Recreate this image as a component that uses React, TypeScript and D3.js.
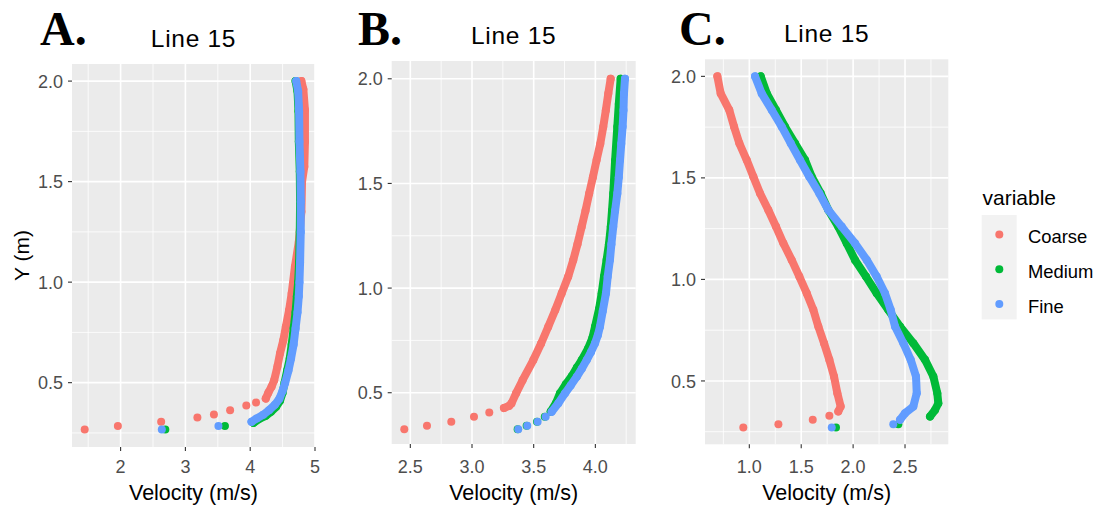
import React from "react";
import * as d3 from "d3";

type P = [number, number];

// Series colours & legend
const seriesNames = ["Coarse", "Medium", "Fine"];
const seriesColors = ["#F8766D", "#00BA38", "#619CFF"];

// ---------- Panel A (velocity m/s, Y m) ----------
const aCoarseBed: P[] = [[1.446, 0.267], [1.958, 0.284], [2.626, 0.305], [3.185, 0.327], [3.44, 0.342], [3.69, 0.363], [3.94, 0.386], [4.09, 0.401]];
const aCoarseProfile: P[] = [[4.24, 0.421], [4.28, 0.45], [4.33, 0.48], [4.37, 0.512], [4.42, 0.58], [4.46, 0.645], [4.51, 0.71], [4.55, 0.778], [4.6, 0.86], [4.64, 0.944], [4.69, 1.076], [4.75, 1.2], [4.79, 1.35], [4.8, 1.5], [4.835, 1.574], [4.845, 1.7], [4.845, 1.856], [4.82, 1.96], [4.79, 2.0]];
const aMediumBed: P[] = [[2.69, 0.267], [3.61, 0.284]];
const aMediumProfile: P[] = [[4.05, 0.3], [4.14, 0.32], [4.24, 0.335], [4.32, 0.355], [4.4, 0.38], [4.46, 0.41], [4.5, 0.45], [4.53, 0.5], [4.57, 0.56], [4.61, 0.62], [4.64, 0.69], [4.67, 0.77], [4.7, 0.85], [4.72, 0.93], [4.74, 1.0], [4.755, 1.1], [4.765, 1.25], [4.77, 1.4], [4.765, 1.55], [4.75, 1.7], [4.745, 1.85], [4.73, 1.95], [4.70, 2.0]];
const aFineBed: P[] = [[2.636, 0.267], [3.51, 0.284]];
const aFineProfile: P[] = [[4.02, 0.305], [4.1, 0.322], [4.2, 0.34], [4.29, 0.363], [4.38, 0.39], [4.45, 0.42], [4.5, 0.46], [4.54, 0.5], [4.59, 0.56], [4.63, 0.62], [4.67, 0.69], [4.7, 0.77], [4.73, 0.85], [4.75, 0.93], [4.76, 1.0], [4.77, 1.1], [4.78, 1.25], [4.78, 1.4], [4.775, 1.55], [4.76, 1.7], [4.755, 1.85], [4.74, 1.95], [4.71, 2.0]];

// ---------- Panel B ----------
const bCoarseBed: P[] = [[2.451, 0.326], [2.635, 0.342], [2.832, 0.361], [3.016, 0.385], [3.14, 0.406]];
const bCoarseProfile: P[] = [[3.259, 0.427], [3.3, 0.437], [3.32, 0.449], [3.357, 0.497], [3.41, 0.56], [3.497, 0.656], [3.56, 0.735], [3.618, 0.815], [3.675, 0.895], [3.727, 0.975], [3.78, 1.055], [3.821, 1.134], [3.855, 1.21], [3.889, 1.293], [3.92, 1.37], [3.95, 1.452], [3.98, 1.53], [4.01, 1.612], [4.04, 1.69], [4.064, 1.771], [4.085, 1.85], [4.105, 1.93], [4.124, 2.0]];
const bMediumBed: P[] = [[3.37, 0.326], [3.443, 0.342], [3.527, 0.361], [3.59, 0.385]];
const bMediumProfile: P[] = [[3.638, 0.41], [3.68, 0.45], [3.713, 0.497], [3.76, 0.54], [3.81, 0.58], [3.85, 0.62], [3.889, 0.656], [3.94, 0.71], [3.975, 0.76], [3.997, 0.815], [4.03, 0.9], [4.051, 0.975], [4.07, 1.055], [4.091, 1.134], [4.11, 1.21], [4.125, 1.293], [4.135, 1.37], [4.145, 1.452], [4.16, 1.61], [4.178, 1.771], [4.19, 1.88], [4.205, 2.0]];
const bFineBed: P[] = [[3.375, 0.326], [3.448, 0.342], [3.532, 0.361], [3.597, 0.385]];
const bFineProfile: P[] = [[3.646, 0.409], [3.7, 0.45], [3.754, 0.497], [3.8, 0.535], [3.849, 0.576], [3.89, 0.615], [3.93, 0.656], [3.965, 0.695], [3.997, 0.736], [4.02, 0.775], [4.037, 0.815], [4.06, 0.89], [4.086, 0.975], [4.1, 1.055], [4.118, 1.134], [4.13, 1.21], [4.145, 1.293], [4.16, 1.37], [4.178, 1.452], [4.19, 1.53], [4.2, 1.612], [4.21, 1.69], [4.221, 1.771], [4.228, 1.85], [4.232, 1.93], [4.24, 2.0]];

// ---------- Panel C ----------
const cCoarseBed: P[] = [[0.942, 0.271], [1.28, 0.287], [1.611, 0.309], [1.771, 0.328]];
const cCoarseProfile: P[] = [[1.857, 0.35], [1.88, 0.374], [1.848, 0.44], [1.816, 0.522], [1.771, 0.604], [1.72, 0.686], [1.665, 0.768], [1.617, 0.85], [1.553, 0.932], [1.482, 1.014], [1.408, 1.096], [1.328, 1.178], [1.257, 1.26], [1.183, 1.342], [1.103, 1.424], [1.039, 1.506], [0.975, 1.588], [0.904, 1.67], [0.853, 1.752], [0.807, 1.834], [0.724, 1.916], [0.692, 2.0]];
const cMediumBed: P[] = [[1.835, 0.271], [2.436, 0.287]];
const cMediumProfile: P[] = [[2.741, 0.325], [2.789, 0.357], [2.821, 0.39], [2.811, 0.44], [2.773, 0.522], [2.693, 0.604], [2.58, 0.686], [2.452, 0.768], [2.339, 0.85], [2.227, 0.932], [2.124, 1.014], [2.018, 1.096], [1.938, 1.178], [1.857, 1.26], [1.761, 1.342], [1.688, 1.424], [1.601, 1.506], [1.537, 1.588], [1.44, 1.67], [1.344, 1.752], [1.257, 1.834], [1.168, 1.916], [1.11, 2.0]];
const cFineBed: P[] = [[1.794, 0.271], [2.387, 0.287]];
const cFineProfile: P[] = [[2.452, 0.309], [2.5, 0.341], [2.58, 0.374], [2.613, 0.44], [2.606, 0.522], [2.555, 0.604], [2.484, 0.686], [2.404, 0.768], [2.362, 0.85], [2.307, 0.932], [2.227, 1.014], [2.131, 1.096], [2.018, 1.178], [1.89, 1.26], [1.761, 1.342], [1.674, 1.424], [1.578, 1.506], [1.488, 1.588], [1.399, 1.67], [1.312, 1.752], [1.216, 1.834], [1.119, 1.916], [1.055, 2.0]];

// Tick values
const aXTicks = [2, 3, 4, 5];
const bXTicks = [2.5, 3.0, 3.5, 4.0];
const cXTicks = [1.0, 1.5, 2.0, 2.5];
const yTicks = [0.5, 1.0, 1.5, 2.0];

const titleText = "Line 15";
const xTitle = "Velocity (m/s)";
const yTitle = "Y (m)";

const SANS = "'Liberation Sans', Arial, sans-serif";
const SERIF = "'Liberation Serif', 'Times New Roman', serif";

type Panel = {
  label: string;
  labelX: number;
  left: number; right: number; top: number; bottom: number;
  xDomain: [number, number];
  yDomain: [number, number];
  xTicks: number[];
  xFmt: (v: number) => string;
  series: { bed: P[]; profile: P[] }[];
  showY: boolean;
};

const panels: Panel[] = [
  {
    label: "A.", labelX: 40, left: 72, right: 315, top: 64, bottom: 447,
    xDomain: [1.25, 5.0], yDomain: [0.18, 2.085], xTicks: aXTicks, xFmt: d3.format("d"),
    series: [
      { bed: aCoarseBed, profile: aCoarseProfile },
      { bed: aMediumBed, profile: aMediumProfile },
      { bed: aFineBed, profile: aFineProfile },
    ],
    showY: true,
  },
  {
    label: "B.", labelX: 358, left: 391.7, right: 635.7, top: 61, bottom: 444,
    xDomain: [2.349, 4.327], yDomain: [0.255, 2.085], xTicks: bXTicks, xFmt: d3.format(".1f"),
    series: [
      { bed: bCoarseBed, profile: bCoarseProfile },
      { bed: bMediumBed, profile: bMediumProfile },
      { bed: bFineBed, profile: bFineProfile },
    ],
    showY: false,
  },
  {
    label: "C.", labelX: 679, left: 705, right: 948.3, top: 59.3, bottom: 444.3,
    xDomain: [0.573, 2.917], yDomain: [0.188, 2.084], xTicks: cXTicks, xFmt: d3.format(".1f"),
    series: [
      { bed: cCoarseBed, profile: cCoarseProfile },
      { bed: cMediumBed, profile: cMediumProfile },
      { bed: cFineBed, profile: cFineProfile },
    ],
    showY: false,
  },
];

function minorTicks(major: number[], domain: [number, number]): number[] {
  const step = major[1] - major[0];
  const out: number[] = [];
  const first = major[0] - step / 2;
  for (let v = first; v <= domain[1] + 1e-9; v += step) {
    if (v >= domain[0] && v <= domain[1]) out.push(+v.toFixed(6));
  }
  return out;
}

const R = 4;

function PanelView({ p }: { p: Panel }) {
  const x = d3.scaleLinear().domain(p.xDomain).range([p.left, p.right]);
  const y = d3.scaleLinear().domain(p.yDomain).range([p.bottom, p.top]);
  const line = d3.line<P>().x((d) => x(d[0])).y((d) => y(d[1]));
  const xMinor = minorTicks(p.xTicks, p.xDomain);
  const yMinor = minorTicks(yTicks, p.yDomain);
  const cx = (p.left + p.right) / 2;
  const cy = (p.top + p.bottom) / 2;
  return (
    <g>
      <text x={p.labelX} y={45} fontFamily={SERIF} fontWeight="bold" fontSize={48} fill="#000">{p.label}</text>
      <text x={cx} y={p.top - 17} textAnchor="middle" fontFamily={SANS} fontSize={24.5} letterSpacing={0.7} fill="#000">{titleText}</text>
      <rect x={p.left} y={p.top} width={p.right - p.left} height={p.bottom - p.top} fill="#EBEBEB" />
      {xMinor.map((v) => (
        <line key={"xm" + v} x1={x(v)} x2={x(v)} y1={p.top} y2={p.bottom} stroke="#fff" strokeWidth={0.8} />
      ))}
      {yMinor.map((v) => (
        <line key={"ym" + v} y1={y(v)} y2={y(v)} x1={p.left} x2={p.right} stroke="#fff" strokeWidth={0.8} />
      ))}
      {p.xTicks.map((v) => (
        <line key={"xM" + v} x1={x(v)} x2={x(v)} y1={p.top} y2={p.bottom} stroke="#fff" strokeWidth={1.6} />
      ))}
      {yTicks.map((v) => (
        <line key={"yM" + v} y1={y(v)} y2={y(v)} x1={p.left} x2={p.right} stroke="#fff" strokeWidth={1.6} />
      ))}
      {p.series.map((s, i) => (
        <g key={"s" + i} fill={seriesColors[i]}>
          <path d={line(s.profile) || ""} fill="none" stroke={seriesColors[i]} strokeWidth={2 * R} strokeLinejoin="round" strokeLinecap="round" />
          {s.profile.map((d, j) => (
            <circle key={"p" + j} cx={x(d[0])} cy={y(d[1])} r={R} />
          ))}
          {s.bed.map((d, j) => (
            <circle key={"b" + j} cx={x(d[0])} cy={y(d[1])} r={R} />
          ))}
        </g>
      ))}
      {p.xTicks.map((v) => (
        <g key={"xt" + v}>
          <line x1={x(v)} x2={x(v)} y1={p.bottom} y2={p.bottom + 4} stroke="#333" strokeWidth={1.1} />
          <text x={x(v)} y={473} textAnchor="middle" fontFamily={SANS} fontSize={18} fill="#4D4D4D">{p.xFmt(v)}</text>
        </g>
      ))}
      {yTicks.map((v) => (
        <g key={"yt" + v}>
          <line x1={p.left - 4} x2={p.left} y1={y(v)} y2={y(v)} stroke="#333" strokeWidth={1.1} />
          <text x={p.left - 9} y={y(v) + 6.6} textAnchor="end" fontFamily={SANS} fontSize={18} fill="#4D4D4D">{d3.format(".1f")(v)}</text>
        </g>
      ))}
      <text x={cx} y={500} textAnchor="middle" fontFamily={SANS} fontSize={21.5} fill="#000">{xTitle}</text>
      {p.showY && (
        <text transform={`translate(29,${cy}) rotate(-90)`} textAnchor="middle" fontFamily={SANS} fontSize={21} fill="#000">{yTitle}</text>
      )}
    </g>
  );
}

function Legend() {
  const keyTop = 215;
  const keyH = 34.8;
  return (
    <g>
      <text x={982.5} y={205} fontFamily={SANS} fontSize={21} fill="#000">variable</text>
      <rect x={981.7} y={keyTop} width={35} height={keyH * seriesNames.length} fill="#F2F2F2" />
      {seriesNames.map((n, i) => {
        const cy = keyTop + keyH * i + 19.5;
        return (
          <g key={n}>
            <circle cx={999.3} cy={cy} r={R} fill={seriesColors[i]} />
            <text x={1028} y={cy + 8.8} fontFamily={SANS} fontSize={18.4} fill="#000">{n}</text>
          </g>
        );
      })}
    </g>
  );
}

export default function App() {
  return (
    <svg width={1097} height={508} style={{ position: "absolute", left: 0, top: 0, background: "#fff" }}>
      <rect x={0} y={0} width={1097} height={508} fill="#fff" />
      {panels.map((p) => (
        <PanelView key={p.label} p={p} />
      ))}
      <Legend />
    </svg>
  );
}
